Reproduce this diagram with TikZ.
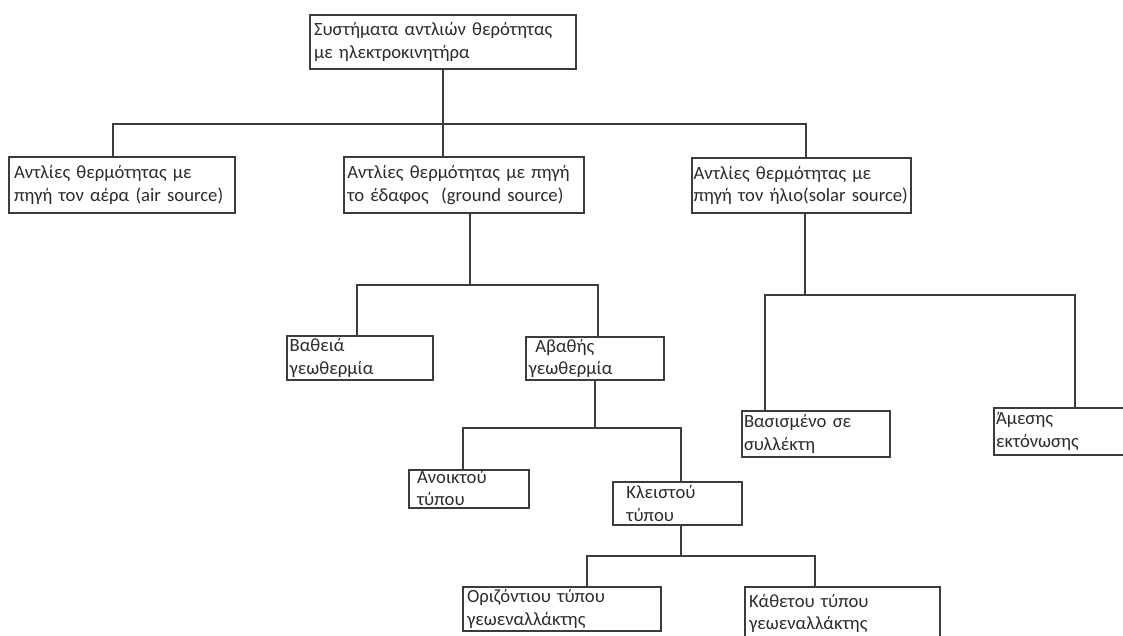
\documentclass[tikz,border=0pt]{standalone}
\usepackage{fontspec}
\setmainfont{Carlito}
\usepackage{tikz}
\usetikzlibrary{positioning,calc}
\definecolor{inkdark}{HTML}{2B2B2B}
\definecolor{linegray}{HTML}{3C3C3C}

\begin{document}
\begin{tikzpicture}[x=0.75pt,y=-0.75pt,
  font=\fontsize{14}{17}\selectfont,
  box/.style={draw=linegray,line width=1.3pt,rectangle,align=left,inner xsep=3pt,inner ysep=0pt,text=inkdark},
  link/.style={draw=linegray,line width=1.1pt}]
  \useasboundingbox (0,0) rectangle (1123,635);
  \node[box,minimum width=199.5pt,minimum height=40.5pt,text width=193.5pt] (top) at (443,42) {Συστήματα αντλιών θερότητας\\με ηλεκτροκινητήρα};
  \node[box,minimum width=168pt,minimum height=42pt,text width=162pt,inner xsep=4pt] (air) at (122,185) {Αντλίες θερμότητας με\\πηγή τον αέρα (air source)};
  \node[box,minimum width=180pt,minimum height=42pt,text width=175pt,inner xsep=2.5pt] (ground) at (464,185) {Αντλίες θερμότητας με πηγή\\το έδαφος\ \ (ground source)};
  \node[box,minimum width=164.25pt,minimum height=41.25pt,text width=162pt,inner xsep=1pt] (solar) at (801.5,185.5) {Αντλίες θερμότητας με\\πηγή τον ήλιο(solar source)};
  \node[box,minimum width=109.5pt,minimum height=33pt,text width=105.5pt,inner xsep=2pt] (deep) at (360,358) {Βαθειά\\γεωθερμία};
  \node[box,minimum width=103.5pt,minimum height=32.25pt,text width=99.5pt,inner xsep=2pt] (shallow) at (595,358.5) {\hspace{5pt}Αβαθής\\γεωθερμία};
  \node[box,minimum width=111pt,minimum height=34.5pt,text width=108pt,inner xsep=1pt] (collector) at (816,434) {Βασισμένο σε\\συλλέκτη};
  \node[box,minimum width=109.5pt,minimum height=35.25pt,text width=106.5pt,inner xsep=1pt] (direct) at (1067,431.5) {Άμεσης\\εκτόνωσης};
  \node[box,minimum width=90pt,minimum height=28.5pt,text width=78pt,inner xsep=6pt,text height=8pt,text depth=17pt] (open) at (469,489) {Ανοικτού\\τύπου};
  \node[box,minimum width=96.75pt,minimum height=32.25pt,text width=84.75pt,inner xsep=6pt] (closed) at (677.5,503.5) {\hspace{4pt}Κλειστού\\\hspace{4pt}τύπου};
  \node[box,minimum width=148.5pt,minimum height=33pt,text width=142.5pt] (horiz) at (562,609) {Οριζόντιου τύπου\\γεωεναλλάκτης};
  \node[box,minimum width=146.25pt,minimum height=39.75pt,text width=140.25pt] (vert) at (842.5,613.5) {Κάθετου τύπου\\γεωεναλλάκτης};
  \coordinate (t1) at (113,124);
  \coordinate (t2) at (806,124);
  \coordinate (g0) at (470,285);
  \coordinate (g1) at (357,285);
  \coordinate (g2) at (598,285);
  \coordinate (s0) at (805,295);
  \coordinate (s1) at (765,295);
  \coordinate (s2) at (1075,295);
  \coordinate (a0) at (595,428);
  \coordinate (a1) at (463,428);
  \coordinate (a2) at (681,428);
  \coordinate (k0) at (681,556);
  \coordinate (k1) at (587,556);
  \coordinate (k2) at (815,556);
  \draw[link] (top.south) -- (top.south |- ground.north);
  \draw[link] (t1 |- air.north) -- (t1) -- (t2) -- (t2 |- solar.north);
  \draw[link] (g0 |- ground.south) -- (g0);
  \draw[link] (g1 |- deep.north) -- (g1) -- (g2) -- (g2 |- shallow.north);
  \draw[link] (s0 |- solar.south) -- (s0);
  \draw[link] (s1 |- collector.north) -- (s1) -- (s2) -- (s2 |- direct.north);
  \draw[link] (a0 |- shallow.south) -- (a0);
  \draw[link] (a1 |- open.north) -- (a1) -- (a2) -- (a2 |- closed.north);
  \draw[link] (k0 |- closed.south) -- (k0);
  \draw[link] (k1 |- horiz.north) -- (k1) -- (k2) -- (k2 |- vert.north);
\end{tikzpicture}
\end{document}
